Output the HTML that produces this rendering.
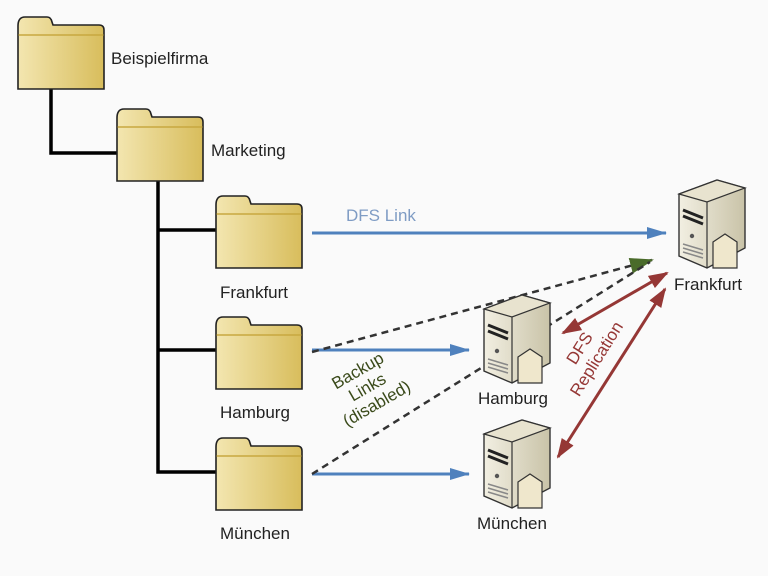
<!DOCTYPE html>
<html><head><meta charset="utf-8"><style>
html,body{margin:0;padding:0;background:#fafafa;}
svg{display:block}
text{font-family:"Liberation Sans",sans-serif;}
</style></head><body>
<svg width="768" height="576" viewBox="0 0 768 576" xmlns="http://www.w3.org/2000/svg">
<defs>
<linearGradient id="fg" x1="0" x2="1" y1="0" y2="0">
<stop offset="0" stop-color="#f3e6b0"/><stop offset="1" stop-color="#d8bd5c"/></linearGradient>
<linearGradient id="sg" x1="0" x2="1"><stop offset="0" stop-color="#f2efe2"/><stop offset="1" stop-color="#c9c3a8"/></linearGradient>
<symbol id="folder" viewBox="0 0 88 74" width="88" height="74">
<path d="M1,10 Q1,1 8,1 L30,1 Q34,1 35,6 L36,9 L82,9 Q87,9 87,14 L87,73 L1,73 Z" fill="url(#fg)" stroke="#222" stroke-width="1.6"/>
<line x1="1.5" y1="19" x2="86.5" y2="19" stroke="#c8a840" stroke-width="1.5"/>
</symbol>
<symbol id="server" viewBox="0 0 70 92" width="70" height="92">
<path d="M2,16 L40,2 L68,10 L68,70 L30,90 L2,78 Z" fill="url(#sg)" stroke="#333" stroke-width="1.4"/>
<path d="M2,16 L40,2 L68,10 L30,24 Z" fill="#e8e3cf" stroke="#333" stroke-width="1.2"/>
<line x1="30" y1="24" x2="30" y2="90" stroke="#333" stroke-width="1.2"/>
<path d="M6,32 L26,40 M6,38 L26,46" stroke="#222" stroke-width="3"/>
<circle cx="15" cy="58" r="2.2" fill="#555"/>
<path d="M6,66 L26,72 M6,70 L26,76 M6,74 L26,80" stroke="#888" stroke-width="1.5"/>
<path d="M36,64 L48,56 L60,64 L60,90 L36,90 Z" fill="#efe7cc" stroke="#333" stroke-width="1.2"/>
</symbol>
<marker id="ab" markerWidth="20" markerHeight="12" refX="19" refY="6" orient="auto" markerUnits="userSpaceOnUse"><path d="M0,0 L20,6 L0,12 Z" fill="#4f81bd"/></marker>
<marker id="ag" markerWidth="24" markerHeight="16" refX="22" refY="8" orient="auto" markerUnits="userSpaceOnUse"><path d="M0,0 L24,8 L0,16 Z" fill="#4a6b2a"/></marker>
<marker id="ar" markerWidth="20" markerHeight="14" refX="18" refY="7" orient="auto-start-reverse" markerUnits="userSpaceOnUse"><path d="M0,0 L20,7 L0,14 Z" fill="#953735"/></marker>
</defs>
<g stroke="#000" stroke-width="3.5" fill="none">
<polyline points="51,89 51,153 117,153"/>
<polyline points="158,181 158,472 217,472"/>
<line x1="158" y1="230" x2="217" y2="230"/>
<line x1="158" y1="350" x2="217" y2="350"/>
</g>
<use href="#folder" x="17" y="16"/>
<use href="#folder" x="116" y="108"/>
<use href="#folder" x="215" y="195"/>
<use href="#folder" x="215" y="316"/>
<use href="#folder" x="215" y="437"/>
<g font-size="17" fill="#222">
<text x="111" y="64">Beispielfirma</text>
<text x="211" y="156">Marketing</text>
<text x="220" y="298">Frankfurt</text>
<text x="220" y="418">Hamburg</text>
<text x="220" y="539">München</text>
<text x="674" y="290">Frankfurt</text>
<text x="478" y="404">Hamburg</text>
<text x="477" y="529">München</text>
</g>
<text x="346" y="221" font-size="17" fill="#7f9cc4">DFS Link</text>
<g stroke="#4f81bd" stroke-width="3" marker-end="url(#ab)">
<line x1="312" y1="233" x2="666" y2="233"/>
<line x1="312" y1="350" x2="469" y2="350"/>
<line x1="312" y1="474" x2="469" y2="474"/>
</g>
<g stroke="#333" stroke-width="2.5" stroke-dasharray="7,5" fill="none">
<line x1="312" y1="352" x2="652" y2="260" marker-end="url(#ag)"/>
<line x1="312" y1="474" x2="650" y2="262"/>
</g>
<use href="#server" x="677" y="178"/>
<use href="#server" x="482" y="293"/>
<use href="#server" x="482" y="418"/>
<g stroke="#953735" stroke-width="3" marker-start="url(#ar)" marker-end="url(#ar)">
<line x1="563" y1="333" x2="667" y2="273"/>
<line x1="558" y1="457" x2="665" y2="289"/>
</g>
<g font-size="17" fill="#3a4a1a" text-anchor="middle" transform="translate(370,392) rotate(-30)">
<text x="0" y="-19">Backup</text><text x="0" y="0">Links</text><text x="0" y="19">(disabled)</text>
</g>
<g font-size="17" fill="#953735" text-anchor="middle" transform="translate(592,356) rotate(-58)">
<text x="0" y="-9">DFS</text><text x="0" y="11">Replication</text>
</g>
</svg>
</body></html>
